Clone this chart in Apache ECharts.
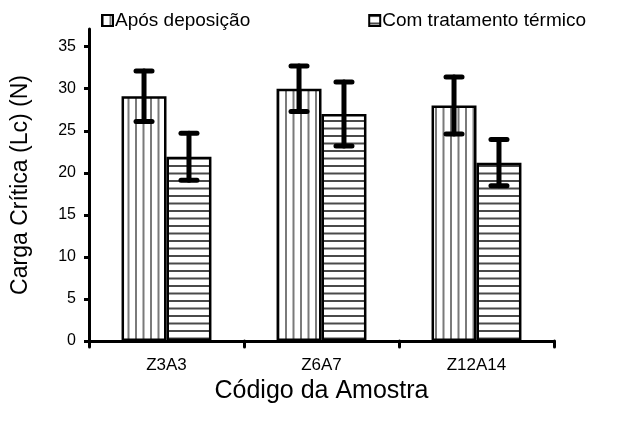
<!DOCTYPE html>
<html><head><meta charset="utf-8">
<script src="https://cdn.jsdelivr.net/npm/echarts@6/dist/echarts.min.js"></script>
<style>html,body{margin:0;padding:0;background:#fff}#c{width:625px;height:424px}</style>
</head><body><div id="c"></div>
<script>
const categories = ['Z3A3', 'Z6A7', 'Z12A14'];
const seriesNames = ['Após deposição', 'Com tratamento térmico'];
const aposValues = [29.1, 30.0, 28.0];
const aposErrors = [3.0, 2.7, 3.4];
const tratValues = [21.9, 27.0, 21.2];
const tratErrors = [2.8, 3.8, 2.75];
const yTicks = [0, 5, 10, 15, 20, 25, 30, 35];

function stripe(vertical) {
  const c = document.createElement('canvas');
  c.width = vertical ? 15 : 4; c.height = vertical ? 4 : 15;
  const g = c.getContext('2d');
  g.fillStyle = '#fff'; g.fillRect(0, 0, c.width, c.height);
  g.fillStyle = vertical ? '#7a7a7a' : '#4a4a4a';
  if (vertical) { g.fillRect(0, 0, 2, 4); g.fillRect(7.5, 0, 2, 4); }
  else { g.fillRect(0, 0, 4, 2); g.fillRect(0, 7.5, 4, 2); }
  return c;
}
const vPat = { image: stripe(true), repeat: 'repeat' };
const hPat = { image: stripe(false), repeat: 'repeat' };

const errData = [];
aposValues.forEach((v, i) => errData.push([i, v - aposErrors[i], v + aposErrors[i], 0]));
tratValues.forEach((v, i) => errData.push([i, v - tratErrors[i], v + tratErrors[i], 1]));

const gapRatio = 0.42;
const chart = echarts.init(document.getElementById('c'));
chart.setOption({
  animation: false,
  textStyle: { fontFamily: 'Liberation Sans, Arial, sans-serif', color: '#000' },
  grid: { left: 89, right: 71, top: 29, bottom: 83 },
  legend: {
    top: 6, left: 96, itemWidth: 11, itemHeight: 11, itemGap: 118,
    icon: 'rect',
    data: seriesNames,
    textStyle: { fontSize: 19, color: '#000', padding: [0, 0, 0, -3] },
    itemStyle: { borderColor: '#000', borderWidth: 2 }
  },
  xAxis: {
    type: 'category', data: categories,
    name: 'Código da Amostra', nameLocation: 'middle', nameGap: 25,
    nameTextStyle: { fontSize: 25, color: '#000' },
    axisLine: { lineStyle: { color: '#000', width: 3 } },
    axisTick: { show: true, length: 6, lineStyle: { color: '#000', width: 3, cap: 'round' } },
    axisLabel: { fontSize: 17, color: '#000', margin: 16 }
  },
  yAxis: {
    type: 'value', min: 0, max: 37.1,
    name: 'Carga Crítica (Lc) (N)', nameLocation: 'middle', nameGap: 57,
    nameTextStyle: { fontSize: 23, color: '#000' },
    splitLine: { show: false },
    axisLine: { show: true, lineStyle: { color: '#000', width: 3 } },
    axisTick: { show: true, length: 5, customValues: yTicks, lineStyle: { color: '#000', width: 3 } },
    axisLabel: { fontSize: 16, color: '#000', margin: 13, customValues: yTicks }
  },
  series: [
    { name: seriesNames[0], type: 'bar', data: aposValues, barGap: '0%', barCategoryGap: (gapRatio * 100) + '%',
      itemStyle: { color: vPat, borderColor: '#000', borderWidth: 2.5 } },
    { name: seriesNames[1], type: 'bar', data: tratValues,
      itemStyle: { color: hPat, borderColor: '#000', borderWidth: 2.5 } },
    { type: 'custom', data: errData, z: 10,
      renderItem: function (params, api) {
        const band = api.size([1, 0])[0];
        const bw = band * (1 - gapRatio) / 2;
        const off = (api.value(3) === 0 ? -0.5 : 0.5) * bw;
        const lo = api.coord([api.value(0), api.value(1)]);
        const hi = api.coord([api.value(0), api.value(2)]);
        const x = lo[0] + off;
        const cw = 8;
        const st = { stroke: '#000', lineWidth: 5, lineCap: 'round' };
        return { type: 'group', children: [
          { type: 'line', shape: { x1: x, y1: lo[1], x2: x, y2: hi[1] }, style: st },
          { type: 'line', shape: { x1: x - cw, y1: lo[1], x2: x + cw, y2: lo[1] }, style: st },
          { type: 'line', shape: { x1: x - cw, y1: hi[1], x2: x + cw, y2: hi[1] }, style: st }
        ]};
      }
    }
  ]
});
</script></body></html>
